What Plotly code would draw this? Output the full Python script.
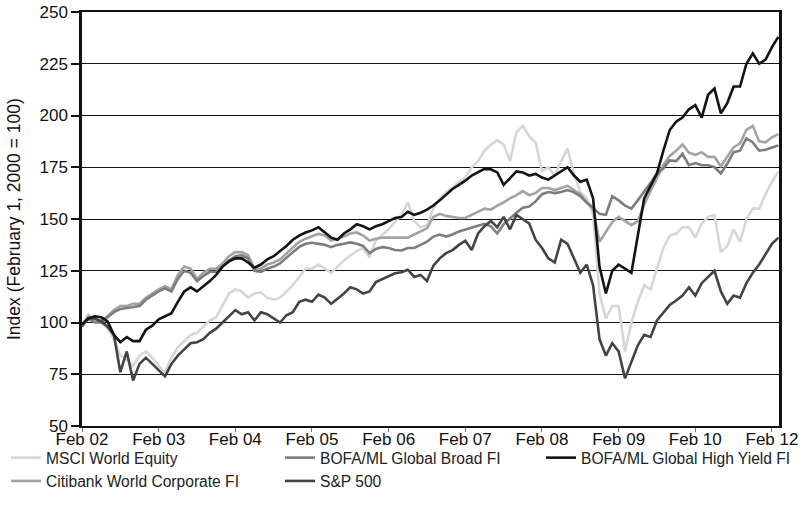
import plotly.graph_objects as go

# Monthly observations, month 0 = Feb 2002
tick_labels = ["Feb 02", "Feb 03", "Feb 04", "Feb 05", "Feb 06", "Feb 07",
               "Feb 08", "Feb 09", "Feb 10", "Feb 12"]

msci = [99, 104, 102, 100, 97, 92, 84, 82, 79, 84, 86, 83, 79, 76, 83, 88, 91, 94, 95, 98,
        101, 102.5, 108, 114, 116, 115, 112, 114, 114.6, 112, 111, 112, 115, 118, 122, 126,
        126, 128, 126, 124, 127, 130, 132.5, 134.5, 136, 131.5, 139.6, 142.5, 145, 148.5,
        152, 158, 149, 146, 147, 155, 160, 163, 165, 168, 170, 175, 178, 183, 186, 188,
        186, 178, 192, 195, 190, 187, 173, 175, 171, 178, 184, 172, 163, 160, 152, 114,
        102, 108, 108, 86, 100, 110, 118, 116, 126, 136, 142, 143, 146, 146, 141, 147.8,
        151, 152, 134, 137, 145, 139, 150, 155, 155, 162, 168, 173]

citi = [98, 103, 101, 101, 103, 106, 108, 108, 109, 109, 112, 114, 116, 117.5, 116, 123,
        127, 126, 121, 124, 126, 126, 128.5, 132, 134, 134, 132.5, 126, 126, 128, 129,
        130.5, 133.5, 136, 139, 140.5, 141.5, 142.8, 142, 139.6, 140.5, 141.5, 143, 143.5,
        142, 139.6, 140.5, 141, 141, 141, 141, 141, 142.5, 144, 145.5, 151, 152.5, 151.5,
        151, 150.5, 150.5, 152, 153.5, 155, 154.5, 156.5, 158, 160, 161.5, 163.5, 161.5,
        162.5, 165, 165, 164, 165, 166, 164, 162, 158, 155, 139, 143.5, 148.5, 151, 149,
        147, 149, 157, 163.5, 170, 176, 180.5, 183, 186, 182, 181, 182.3, 180, 180, 175.5,
        179.9, 184.7, 186.5, 193, 195, 187.5, 187, 189.5, 191]

broad = [98, 102, 100, 100, 102.5, 105, 106.5, 107, 107.5, 108, 111, 113, 115, 116.5, 115,
         121, 125, 124, 120, 122.5, 124.5, 124.5, 127, 130, 132, 132.5, 131, 125, 124.5,
         126, 127, 128.5, 131.5, 134, 136.5, 138, 138.5, 138, 137.5, 136.4, 137.5, 138,
         138.7, 138, 137, 133.5, 135.5, 136.4, 136, 135, 134.8, 136, 136, 137.5, 139,
         141.5, 142.5, 141.5, 142.5, 144, 145, 146, 146.8, 147.7, 146.5, 143, 147.5, 150.5,
         153, 155.5, 156, 158.5, 162, 163, 162.5, 163, 164, 163, 161, 158, 155.5, 152.5,
         152, 161, 159, 156.5, 155, 159, 163, 167.5, 172, 174.5, 178.3, 178, 181.5, 176,
         177, 176, 176, 175, 172, 176.7, 182.3, 183, 189, 187, 183, 183.5, 184.5, 185.5]

high_yield = [99, 102, 103, 102.5, 100.5, 94, 90.5, 93, 91, 91, 96.5, 98.5, 101.5, 103,
              104.5, 110, 115, 117, 115, 117.5, 120, 123, 127, 129.5, 131, 131, 129, 126.5,
              128, 130.5, 132, 134.5, 137, 140, 142, 143.5, 144.5, 146, 143.5, 141, 140,
              143, 145, 147.5, 146.5, 145, 146.5, 147.5, 149, 150.5, 151, 153.5, 152, 153,
              154.5, 156.5, 159, 162, 164.5, 166.5, 168.5, 171, 172.5, 174.2, 174, 172.5,
              166.5, 170, 173, 172.5, 171, 171.8, 170, 169, 171, 173, 175, 171, 168, 169,
              160, 127, 114, 125, 128, 126, 124, 142, 160, 166, 172, 183, 193, 197, 199,
              203, 205, 199, 210, 213, 201, 206, 214, 214, 225, 230, 225, 227, 233, 238]

sp500 = [99, 102, 102, 100.5, 98, 94, 76, 86, 72, 80, 83, 80, 77, 74, 80, 84, 87, 90, 90.5,
         92, 95, 97, 100, 103, 106, 104, 105, 101, 105, 104, 102, 100, 103.5, 105, 110, 111,
         110, 113.5, 112, 109, 111.5, 114, 117, 116, 114, 115, 119.5, 121, 122.5, 123.8,
         124.3, 125.5, 122, 123, 120, 127.5, 131, 133.5, 135, 137.5, 139.5, 135, 143, 146.5,
         149, 146, 151, 145, 152, 150, 147.8, 140, 136, 131, 129, 140, 138, 131, 124, 128,
         118, 92, 84, 90, 86, 73, 81, 89, 94, 93, 101, 105, 108.5, 110.6, 113, 117, 113,
         119, 122, 125, 115, 109, 113, 112, 119, 124, 128, 133, 138, 141]

months = list(range(len(msci)))

# (name, values, colour, legend column, order within column)
series = [
    ("MSCI World Equity", msci, "#d6d6d6", "legend", 1),
    ("Citibank World Corporate FI", citi, "#a3a3a3", "legend", 2),
    ("BOFA/ML Global Broad FI", broad, "#7d7d7d", "legend2", 1),
    ("S&P 500", sp500, "#444444", "legend2", 2),
    ("BOFA/ML Global High Yield FI", high_yield, "#141414", "legend3", 1),
]

fig = go.Figure()
for name, vals, color, leg, rank in series:
    fig.add_trace(go.Scatter(
        x=months, y=vals, name=name, mode="lines",
        line=dict(color=color, width=2.6),
        legend=leg, legendrank=rank,
    ))

FONT = "Liberation Sans, Arial, sans-serif"
W, H = 800, 518
L, R, T, B = 82, 21, 12, 92


def legend_col(left_px):
    return dict(
        orientation="v", xref="container", yref="container",
        x=left_px / W, y=1 - 441 / H, xanchor="left", yanchor="top",
        font=dict(size=15.6, color="#222222"),
        itemwidth=30, tracegroupgap=0,
        bgcolor="rgba(0,0,0,0)",
    )


fig.update_layout(
    width=W, height=H,
    margin=dict(l=L, r=R, t=T, b=B, autoexpand=False),
    paper_bgcolor="white", plot_bgcolor="white",
    font=dict(family=FONT, size=17, color="#111111"),
    showlegend=True,
    legend=legend_col(6),
    legend2=legend_col(280),
    legend3=legend_col(541),
    annotations=[dict(
        text="Index (February 1, 2000 = 100)",
        xref="paper", yref="paper",
        x=(14 - L) / (W - L - R), y=0.5,
        xanchor="center", yanchor="middle",
        textangle=-90, showarrow=False,
        font=dict(size=17.5, family=FONT, color="#111111"),
    )],
)

fig.update_xaxes(
    range=[0, 109.1],
    tickmode="array",
    tickvals=[0, 12, 24, 36, 48, 60, 72, 84, 96, 108],
    ticktext=tick_labels,
    showgrid=False, zeroline=False,
    showline=True, linecolor="#111111", linewidth=2, mirror=True,
    ticks="outside", ticklen=4, tickwidth=1, tickcolor="#777777",
    tickfont=dict(size=17, family=FONT),
    ticklabelstandoff=-7, ticklabeloverflow="allow",
    automargin=False,
)

fig.update_yaxes(
    range=[50, 250],
    tickmode="array",
    tickvals=[50, 75, 100, 125, 150, 175, 200, 225, 250],
    showgrid=True, gridcolor="#111111", gridwidth=1.4,
    zeroline=False,
    showline=True, linecolor="#111111", linewidth=2.5, mirror=True,
    ticks="outside", ticklen=8, tickwidth=1.5, tickcolor="#111111",
    tickfont=dict(size=17, family=FONT),
    ticklabeloverflow="allow",
    automargin=False,
)

# remove the browser's default 8px body margin so the figure fills the window
fig.write_html("out.html", config={"displayModeBar": False},
               post_script="document.body.style.margin='0';")
